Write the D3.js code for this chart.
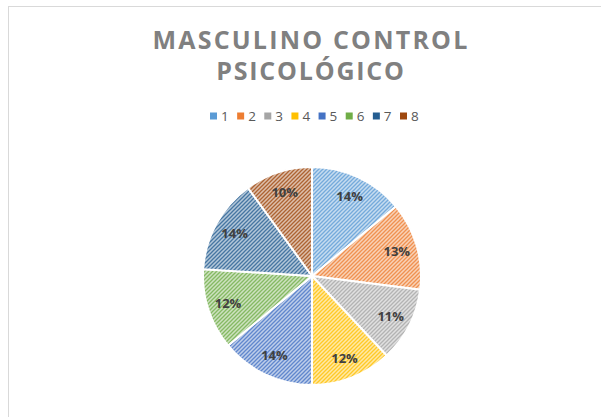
<!DOCTYPE html>
<html>
<head>
<meta charset="utf-8">
<script src="https://cdn.jsdelivr.net/npm/d3@7"></script>
<style>
  body { margin: 0; background: #fff; }
  svg { display: block; }
</style>
</head>
<body>
<svg id="chart" width="601" height="417"></svg>
<script>
// chart data
var titleLines = ["MASCULINO CONTROL", "PSICOLÓGICO"];
var categories = ["1", "2", "3", "4", "5", "6", "7", "8"];
var percents = [14, 13, 11, 12, 14, 12, 14, 10];
var colors = ["#5B9BD5", "#ED7D31", "#A5A5A5", "#FFC000", "#4472C4", "#70AD47", "#255E91", "#9E480E"];

var svg = d3.select("#chart");
var cx = 312, cy = 276, radius = 109;

// outer frame (cut off by the window on right and bottom)
svg.append("rect")
  .attr("x", 8.5).attr("y", 6.5)
  .attr("width", 620).attr("height", 430)
  .attr("fill", "#fff")
  .attr("stroke", "#d9d9d9");

// stripe patterns, one per slice
var defs = svg.append("defs");
colors.forEach(function(c, i) {
  var p = defs.append("pattern")
    .attr("id", "hatch" + i)
    .attr("patternUnits", "userSpaceOnUse")
    .attr("width", 4).attr("height", 4);
  p.append("rect").attr("width", 4).attr("height", 4)
    .attr("fill", d3.interpolateRgb(c, "#fff")(0.65));
  p.append("path")
    .attr("d", "M-1,1 L1,-1 M0,4 L4,0 M3,5 L5,3")
    .attr("stroke", d3.interpolateRgb(c, "#fff")(0.15))
    .attr("stroke-width", 1.3);
});

// title
svg.append("g").selectAll("text")
  .data(titleLines)
  .enter().append("text")
  .attr("x", 311)
  .attr("y", function(d, i) { return 49 + i * 31; })
  .attr("text-anchor", "middle")
  .attr("font-family", "'Open Sans', 'Liberation Sans', sans-serif")
  .attr("font-weight", "bold")
  .attr("font-size", 25)
  .attr("letter-spacing", function(d, i) { return i ? 1.8 : 2.2; })
  .attr("fill", "#808080")
  .text(function(d) { return d; });

// legend
var legendX = d3.scalePoint().domain(categories).range([210, 400]);
var leg = svg.append("g").selectAll("g")
  .data(categories)
  .enter().append("g")
  .attr("transform", function(d) { return "translate(" + legendX(d) + ",116)"; });
leg.append("rect")
  .attr("x", 0).attr("y", -3.5)
  .attr("width", 7).attr("height", 7)
  .attr("fill", function(d, i) { return colors[i]; });
leg.append("text")
  .attr("x", 11).attr("y", 5)
  .attr("font-family", "'Open Sans', 'Liberation Sans', sans-serif")
  .attr("font-size", 13.5)
  .attr("fill", "#595959")
  .text(function(d) { return d; });

// pie
var pie = d3.pie().sort(null).value(function(d) { return d; });
var arcs = pie(percents);
var arc = d3.arc().innerRadius(0).outerRadius(radius);
var labelArc = d3.arc().innerRadius(radius * 0.81).outerRadius(radius * 0.81);

var g = svg.append("g").attr("transform", "translate(" + cx + "," + cy + ")");
g.selectAll("path")
  .data(arcs)
  .enter().append("path")
  .attr("d", arc)
  .attr("fill", function(d, i) { return "url(#hatch" + i + ")"; })
  .attr("stroke", "#fff")
  .attr("stroke-width", 2);

g.selectAll("text")
  .data(arcs)
  .enter().append("text")
  .attr("transform", function(d) { return "translate(" + labelArc.centroid(d) + ")"; })
  .attr("dy", "0.35em")
  .attr("text-anchor", "middle")
  .attr("font-family", "'Open Sans', 'Liberation Sans', sans-serif")
  .attr("font-weight", "bold")
  .attr("font-size", 13)
  .attr("fill", "#404040")
  .text(function(d) { return d.data + "%"; });
</script>
</body>
</html>
